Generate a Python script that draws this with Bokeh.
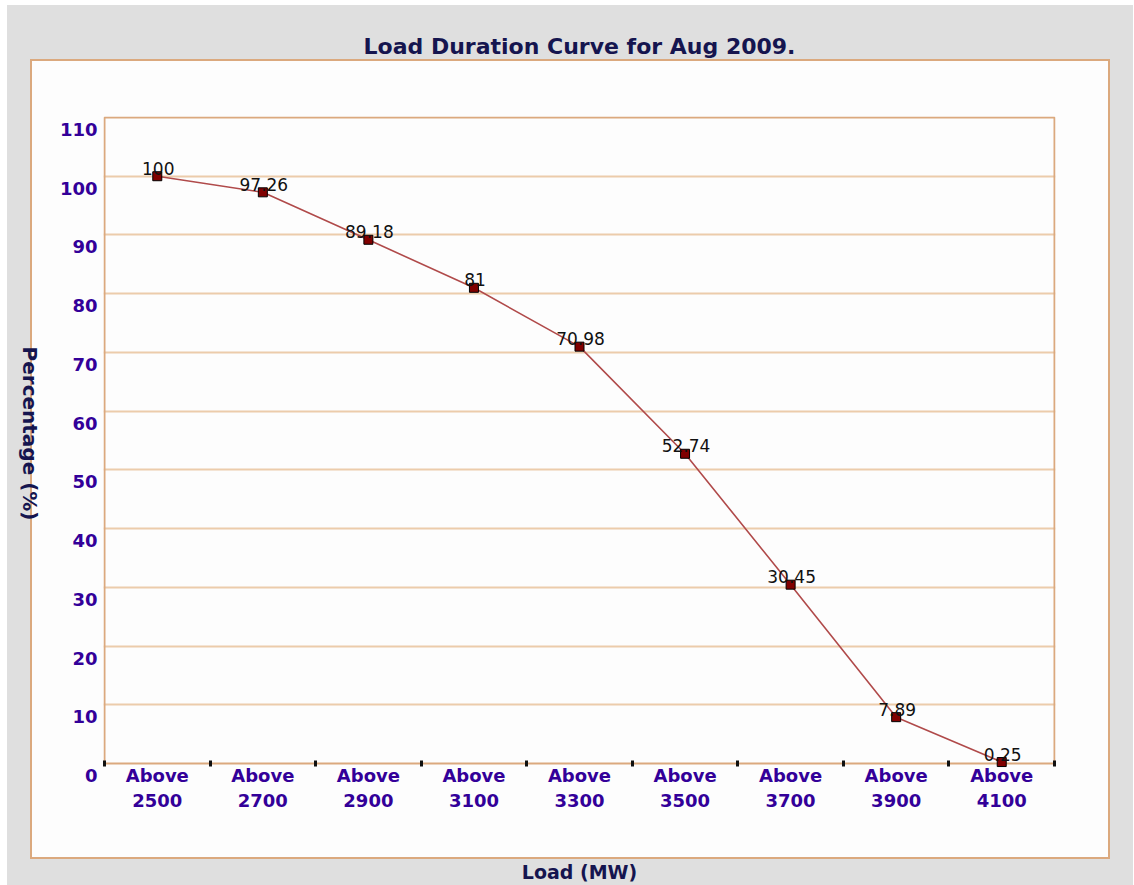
import math
from bokeh.plotting import figure
from bokeh.models import Range1d, FixedTicker, LinearAxis, ColumnDataSource
from bokeh.embed import file_html
from bokeh.resources import INLINE
from bokeh.core.properties import value

# ---------------- data ----------------
title_text = "Load Duration Curve for Aug 2009."
categories = ["Above 2500", "Above 2700", "Above 2900", "Above 3100", "Above 3300",
              "Above 3500", "Above 3700", "Above 3900", "Above 4100"]
percentages = [100, 97.26, 89.18, 81, 70.98, 52.74, 30.45, 7.89, 0.25]
y_ticks = [0, 10, 20, 30, 40, 50, 60, 70, 80, 90, 100, 110]
x_label = "Load (MW)"
y_label = "Percentage (%)"

# ---------------- layout / style (pixels) ----------------
W, H = 1134, 885
PLOT_L, PLOT_R, PLOT_T, PLOT_B = 104, 1054, 117, 763   # bordered plot rectangle
PAD, PAD_B = 1, 13          # frame reaches a bit beyond it (room for the "0" label)
TICK_SHIFT_PX = 12          # y tick labels sit a bit below their grid lines
YLABEL_END_PX = 243         # lower end of the rotated y title, px above the 0 line

GRAY = "#dfdfdf"
PANEL = "#fdfdfd"
TAN = "#dba97e"
GRID = "#ecccab"
TICK_COL = "#330099"
NAVY = "#15154f"
FONT = "DejaVu Sans"

N = len(categories)
Y_MAX = y_ticks[-1]
KX = (PLOT_R - PLOT_L) / N
KY = (PLOT_B - PLOT_T) / Y_MAX


def bare_axis(ax):
    ax.axis_line_color = None
    ax.major_tick_line_color = None
    ax.minor_tick_line_color = None
    ax.major_tick_out = 0
    ax.major_tick_in = 0
    ax.minor_tick_out = 0
    ax.minor_tick_in = 0
    ax.major_label_standoff = 0


x_pos = [i + 0.5 for i in range(N)]
src = ColumnDataSource(dict(x=x_pos, y=percentages,
                            label=[f"{v:g}" for v in percentages]))

p = figure(width=W, height=H,
           x_range=Range1d(-PAD / KX, N + PAD / KX),
           y_range=Range1d(-PAD_B / KY, Y_MAX + PAD / KY),
           output_backend="svg", toolbar_location=None,
           min_border_left=PLOT_L - PAD, min_border_right=W - PLOT_R - PAD,
           min_border_top=PLOT_T - PAD, min_border_bottom=H - PLOT_B - PAD_B)
xa = p.below[0]
ya = p.left[0]

p.border_fill_alpha = 0
p.background_fill_color = PANEL
p.outline_line_color = None
p.styles = {
    "background": (f"linear-gradient({PANEL},{PANEL}) 32px 61px / 1076px 796px no-repeat, "
                   f"linear-gradient({TAN},{TAN}) 30px 59px / 1080px 800px no-repeat, "
                   f"linear-gradient({GRAY},{GRAY}) 7px 5px / 1126px 880px no-repeat, #ffffff"),
}

# chart title, drawn as the label of a bare axis above the frame
ta = LinearAxis(ticker=FixedTicker(ticks=[]), axis_label=title_text)
bare_axis(ta)
ta.axis_label_standoff = 58
ta.axis_label_text_font = FONT
ta.axis_label_text_font_size = "22px"
ta.axis_label_text_font_style = "bold"
ta.axis_label_text_color = NAVY
p.add_layout(ta, "above")

# grid lines inside, tan border round the 0..110 / first..last category box
p.xgrid.visible = False
p.ygrid.ticker = FixedTicker(ticks=y_ticks[1:-1])
p.ygrid.grid_line_color = GRID
p.ygrid.grid_line_width = 2
p.quad(left=0, right=N, bottom=y_ticks[0], top=y_ticks[-1],
       fill_color=None, line_color=TAN, line_width=2)

# x axis (category labels centred, boundary dots as minor ticks on the 0 line)
xa.ticker = FixedTicker(ticks=x_pos, minor_ticks=list(range(N + 1)))
xa.major_label_overrides = {x: c.replace(" ", "\n") for x, c in zip(x_pos, categories)}
xa.axis_line_color = None
xa.major_tick_line_color = None
xa.major_tick_out = 0
xa.major_tick_in = 0
xa.minor_tick_line_color = "#111111"
xa.minor_tick_line_width = 3
xa.minor_tick_in = PAD_B + 3
xa.minor_tick_out = -(PAD_B - 3)
xa.major_label_standoff = 1 - PAD_B
xa.major_label_text_font = FONT
xa.major_label_text_font_style = "bold"
xa.major_label_text_font_size = "18px"
xa.major_label_text_color = TICK_COL
xa.major_label_text_line_height = 1.2
xa.axis_label = x_label
xa.axis_label_text_font = FONT
xa.axis_label_text_font_style = "bold"
xa.axis_label_text_font_size = "19px"
xa.axis_label_text_color = NAVY
xa.axis_label_standoff = 47

# y axis: tick labels through a range shifted down by TICK_SHIFT_PX
p.extra_y_ranges = {"shift": Range1d(-(PAD_B - TICK_SHIFT_PX) / KY,
                                     (PLOT_B - PLOT_T + PAD + TICK_SHIFT_PX) / KY)}
ya.y_range_name = "shift"
ya.ticker = FixedTicker(ticks=y_ticks)
bare_axis(ya)
ya.major_label_standoff = 6
ya.major_label_text_font = FONT
ya.major_label_text_font_style = "bold"
ya.major_label_text_font_size = "18px"
ya.major_label_text_color = TICK_COL

# y axis title: a single rotated label (reads top to bottom) on a bare axis
end_v = YLABEL_END_PX / KY
yt = LinearAxis(ticker=FixedTicker(ticks=[end_v]))
bare_axis(yt)
yt.major_label_overrides = {end_v: y_label}
yt.major_label_orientation = -math.pi / 2
yt.major_label_standoff = 27
yt.major_label_text_font = FONT
yt.major_label_text_font_style = "bold"
yt.major_label_text_font_size = "20px"
yt.major_label_text_color = NAVY
p.add_layout(yt, "left")

# data
p.line("x", "y", source=src, line_color="#b04a4a", line_width=1.6)
p.scatter("x", "y", source=src, marker="square", size=9,
          fill_color="#800000", line_color="#000000", line_width=1)
p.text("x", "y", text="label", source=src, text_font=value(FONT),
       text_font_size="17px", text_align="center", text_baseline="alphabetic",
       x_offset=1, y_offset=-8, text_color="#111111")

open("out.html", "w").write(file_html(p, INLINE))
